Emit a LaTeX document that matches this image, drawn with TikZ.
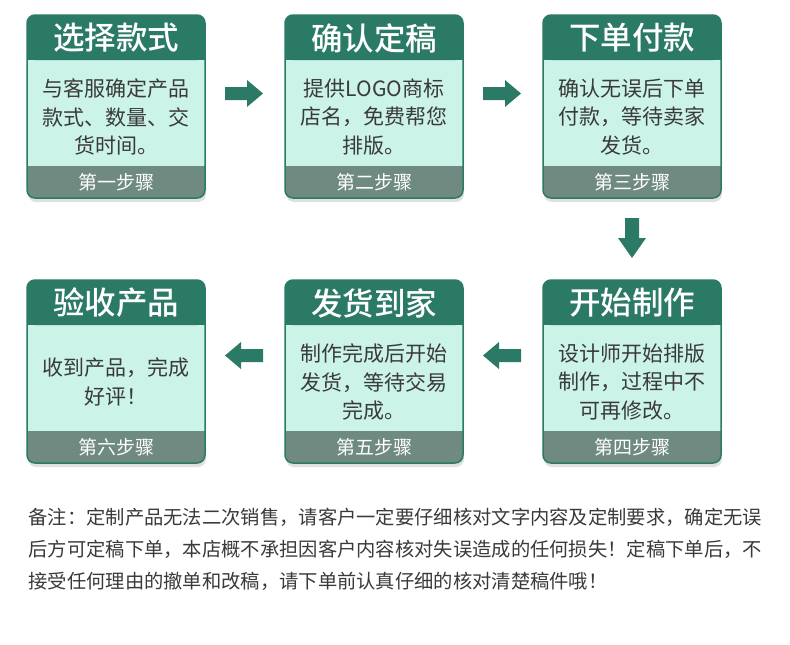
\documentclass[tikz,border=0pt]{standalone}
\usepackage{fontspec}
\setmainfont{Noto Sans CJK SC}
\newfontfamily\cjkb{Noto Sans CJK SC Medium}
\begin{document}
\begin{tikzpicture}[x=1pt,y=-1pt,
  hd/.style={font=\fontsize{31.5}{33}\selectfont\cjkb,text=white},
  bd/.style={font=\fontsize{21}{28.5}\selectfont,text=txt,align=center},
  ft/.style={font=\fontsize{19}{20}\selectfont,text=white},
  arr/.style={fill=dg}]
\definecolor{dg}{HTML}{2B7A66}
\definecolor{mint}{HTML}{CBF3E8}
\definecolor{gr}{HTML}{6F8A80}
\definecolor{txt}{HTML}{3A3A3A}
\useasboundingbox (0,0) rectangle (790,645);
\fill[white] (0,0) rectangle (790,645);
\newcommand\card[6]{%
  \begin{scope}[shift={(#1,#2)}]
  \fill[black!12,rounded corners=8] (1,3) rectangle (179,187);
  \fill[mint,rounded corners=8] (0,0) rectangle (178,183);
  \fill[dg,rounded corners=8] (0,0) rectangle (178,45) -- cycle;
  \fill[dg] (0,30) rectangle (178,45);
  \begin{scope}
  \clip[rounded corners=8] (0,0) rectangle (178,183);
  \fill[gr] (0,151) rectangle (178,183);
  \end{scope}
  \draw[dg,line width=1.5,rounded corners=8] (0,0) rectangle (178,183);
  \node[hd] (#6h) at (89,23) {#3};
  \node[bd] (#6b) at (89,102) {#4};
  \node[ft] (#6f) at (89,167) {#5};
  \end{scope}}
\card{27}{15}{选择款式}{与客服确定产品\\款式、数量、交\\货时间。}{第一步骤}{c1}
\card{285}{15}{确认定稿}{提供LOGO商标\\店名，免费帮您\\排版。}{第二步骤}{c2}
\card{543}{15}{下单付款}{确认无误后下单\\付款，等待卖家\\发货。}{第三步骤}{c3}
\card{543}{280}{开始制作}{设计师开始排版\\制作，过程中不\\可再修改。}{第四步骤}{c4}
\card{285}{280}{发货到家}{制作完成后开始\\发货，等待交易\\完成。}{第五步骤}{c5}
\card{27}{280}{验收产品}{收到产品，完成\\好评！}{第六步骤}{c6}
\foreach \x in {225,483}{
  \fill[dg] (\x,87) -- (\x+22,87) -- (\x+22,80) -- (\x+38,93.5) -- (\x+22,107) -- (\x+22,100) -- (\x,100) -- cycle;}
\foreach \x in {225,483}{
  \fill[dg] (\x+38,349) -- (\x+16,349) -- (\x+16,342) -- (\x,355.5) -- (\x+16,369) -- (\x+16,362) -- (\x+38,362) -- cycle;}
\fill[dg] (625,218) -- (639,218) -- (639,238) -- (646,238) -- (632,258) -- (618,238) -- (625,238) -- cycle;
\node[anchor=west,font=\fontsize{19.3}{32}\selectfont,text=txt,align=left] (note) at (25,549) {备注：定制产品无法二次销售，请客户一定要仔细核对文字内容及定制要求，确定无误\\后方可定稿下单，本店概不承担因客户内容核对失误造成的任何损失！定稿下单后，不\\接受任何理由的撤单和改稿，请下单前认真仔细的核对清楚稿件哦！};
\end{tikzpicture}
\end{document}
